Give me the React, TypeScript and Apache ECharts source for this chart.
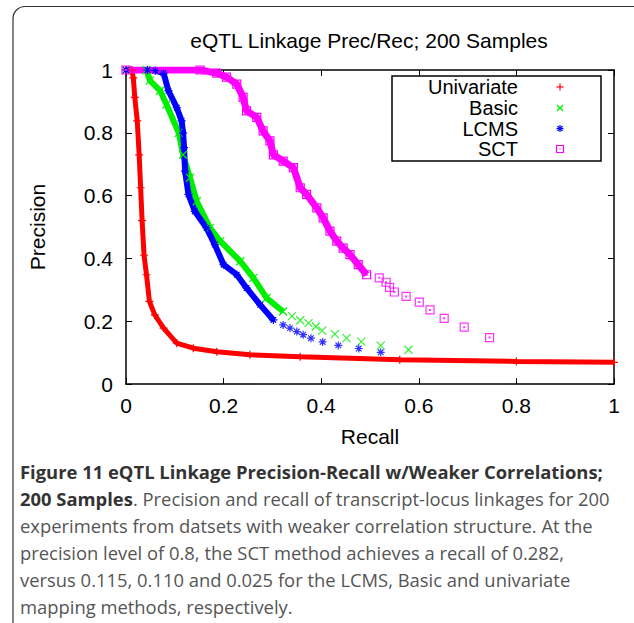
import React, { useEffect, useRef } from "react";
import * as echarts from "echarts";

const TITLE = "eQTL Linkage Prec/Rec; 200 Samples";
const X_NAME = "Recall";
const Y_NAME = "Precision";
const SERIES_NAMES = ["Univariate", "Basic", "LCMS", "SCT"];
const SERIES_COLORS = ["#ff0000", "#00ee00", "#0000ff", "#ff00ff"];

// [recall, precision]
const univariateDense = [
  [0, 1], [0.012, 1], [0.015, 0.975], [0.018, 0.913], [0.023, 0.838], [0.027, 0.73],
  [0.03, 0.625], [0.033, 0.52], [0.037, 0.41], [0.042, 0.348], [0.048, 0.263],
  [0.059, 0.22], [0.077, 0.178], [0.104, 0.13], [0.138, 0.114], [0.186, 0.103],
  [0.254, 0.093], [0.357, 0.087], [0.561, 0.077], [0.8, 0.072], [1, 0.069],
];
const basicDense = [
  [0, 1], [0.042, 1], [0.049, 0.966], [0.07, 0.934], [0.083, 0.89], [0.108, 0.8],
  [0.117, 0.73], [0.131, 0.657], [0.145, 0.582], [0.172, 0.497], [0.193, 0.455],
  [0.234, 0.391], [0.261, 0.338], [0.288, 0.274], [0.322, 0.231],
];
const basicSparse = [
  [0.34, 0.216], [0.357, 0.203], [0.374, 0.194], [0.389, 0.183], [0.402, 0.17],
  [0.428, 0.159], [0.452, 0.146], [0.482, 0.135], [0.522, 0.122], [0.579, 0.109],
];
const lcmsDense = [
  [0, 1], [0.044, 1], [0.06, 0.998], [0.077, 0.99], [0.087, 0.934], [0.104, 0.88],
  [0.114, 0.838], [0.117, 0.8], [0.119, 0.753], [0.121, 0.678], [0.128, 0.604],
  [0.141, 0.55], [0.165, 0.497], [0.182, 0.444], [0.2, 0.38], [0.227, 0.348],
  [0.247, 0.306], [0.275, 0.252], [0.302, 0.204],
];
const lcmsSparse = [
  [0.322, 0.188], [0.336, 0.178], [0.35, 0.167], [0.363, 0.157], [0.379, 0.146],
  [0.403, 0.134], [0.435, 0.123], [0.477, 0.113], [0.522, 0.101],
];
const sctDense = [
  [0, 1], [0.152, 1], [0.186, 0.99], [0.206, 0.977], [0.227, 0.955], [0.24, 0.913],
  [0.247, 0.87], [0.268, 0.849], [0.281, 0.806], [0.295, 0.774], [0.302, 0.73],
  [0.322, 0.71], [0.343, 0.689], [0.357, 0.625], [0.37, 0.604], [0.391, 0.561],
  [0.404, 0.529], [0.418, 0.487], [0.432, 0.455], [0.445, 0.433], [0.459, 0.412],
  [0.476, 0.38], [0.493, 0.348],
];
const sctSparse = [
  [0.519, 0.338], [0.533, 0.324], [0.54, 0.308], [0.55, 0.293], [0.574, 0.279],
  [0.601, 0.261], [0.623, 0.236], [0.652, 0.209], [0.693, 0.181], [0.745, 0.148],
];

const CAPTION_BOLD_1 = "Figure 11 eQTL Linkage Precision-Recall w/Weaker Correlations;";
const CAPTION_BOLD_2 = "200 Samples";
const CAPTION_LINES = [
  ". Precision and recall of transcript-locus linkages for 200",
  "experiments from datsets with weaker correlation structure. At the",
  "precision level of 0.8, the SCT method achieves a recall of 0.282,",
  "versus 0.115, 0.110 and 0.025 for the LCMS, Basic and univariate",
  "mapping methods, respectively.",
];

const SYM_PLUS = "path://M5,0L5,10M0,5L10,5";
const SYM_CROSS = "path://M0,0L10,10M10,0L0,10";
const SYM_STAR = "path://M5,0L5,10M0,5L10,5M1.5,1.5L8.5,8.5M8.5,1.5L1.5,8.5";
const SYM_SQUARE = "path://M0,0L10,0L10,10L0,10ZM4.5,4.5L5.5,4.5L5.5,5.5L4.5,5.5Z";

const FONT = "Liberation Sans";
const FS = 21;
const CAP_FONT = "Open Sans";
const CAP_FS = 18.4;

export default function App() {
  const ref = useRef<HTMLDivElement>(null);
  useEffect(() => {
    document.body.style.margin = "0";
    const chart = echarts.init(ref.current!, null, { renderer: "svg" });
    const mk = (sym: string, color: string) => ({
      symbol: sym,
      itemStyle: { color: "rgba(0,0,0,0)", borderColor: color, borderWidth: 1.2 },
    });
    const dense = (name: string, data: number[][], sym: string, color: string, w: number) => ({
      name,
      type: "line",
      data,
      ...mk(sym, color),
      symbolSize: 8,
      showSymbol: true,
      lineStyle: { color, width: w },
      z: 2,
    });
    const sparse = (name: string, data: number[][], sym: string, color: string) => ({
      name,
      type: "scatter",
      data,
      ...mk(sym, color),
      symbolSize: 8,
      z: 3,
    });
    const axisCommon = {
      type: "value",
      min: 0,
      max: 1,
      interval: 0.2,
      splitLine: { show: false },
      axisLine: { show: true, onZero: false, lineStyle: { color: "#000", width: 1.5 } },
      axisTick: { show: true, inside: true, length: 6, lineStyle: { color: "#000", width: 1 } },
    };
    const captionStyle = { fontFamily: CAP_FONT, fontSize: CAP_FS, fill: "#555" };
    const graphic: any[] = [
      {
        type: "rect",
        shape: { x: 13, y: 6.5, width: 640, height: 700, r: 12 },
        style: { fill: "none", stroke: "#333", lineWidth: 1.2 },
        silent: true,
      },
      {
        type: "text",
        x: 369,
        y: 40,
        style: { text: TITLE, fontFamily: FONT, fontSize: FS, fill: "#000", align: "center", verticalAlign: "middle" },
      },
      {
        type: "rect",
        shape: { x: 392, y: 76, width: 209, height: 85 },
        style: { fill: "#fff", stroke: "#000", lineWidth: 1.5 },
        z: 10,
      },
    ];
    const legendYs = [87, 108, 128.5, 149];
    SERIES_NAMES.forEach((n, i) => {
      graphic.push({
        type: "text",
        x: 518,
        y: legendYs[i],
        z: 11,
        style: {
          text: n,
          fontFamily: FONT,
          fontSize: 20,
          lineHeight: 19,
          fill: "#000",
          align: "right",
          verticalAlign: "middle",
        },
      });
    });
    const lx = 560;
    const seg = (x1: number, y1: number, x2: number, y2: number, c: string) => ({
      type: "line",
      z: 11,
      shape: { x1, y1, x2, y2 },
      style: { stroke: c, lineWidth: 1.2 },
    });
    graphic.push(seg(lx - 3.5, legendYs[0], lx + 3.5, legendYs[0], SERIES_COLORS[0]));
    graphic.push(seg(lx, legendYs[0] - 3.5, lx, legendYs[0] + 3.5, SERIES_COLORS[0]));
    graphic.push(seg(lx - 3, legendYs[1] - 3, lx + 3, legendYs[1] + 3, SERIES_COLORS[1]));
    graphic.push(seg(lx + 3, legendYs[1] - 3, lx - 3, legendYs[1] + 3, SERIES_COLORS[1]));
    graphic.push(seg(lx - 3.5, legendYs[2], lx + 3.5, legendYs[2], SERIES_COLORS[2]));
    graphic.push(seg(lx, legendYs[2] - 3.5, lx, legendYs[2] + 3.5, SERIES_COLORS[2]));
    graphic.push(seg(lx - 2.5, legendYs[2] - 2.5, lx + 2.5, legendYs[2] + 2.5, SERIES_COLORS[2]));
    graphic.push(seg(lx + 2.5, legendYs[2] - 2.5, lx - 2.5, legendYs[2] + 2.5, SERIES_COLORS[2]));
    graphic.push({
      type: "rect",
      z: 11,
      shape: { x: lx - 3.5, y: legendYs[3] - 3.5, width: 7, height: 7 },
      style: { fill: "none", stroke: SERIES_COLORS[3], lineWidth: 1.2 },
    });
    graphic.push({
      type: "rect",
      z: 11,
      shape: { x: lx - 0.5, y: legendYs[3] - 0.5, width: 1, height: 1 },
      style: { fill: SERIES_COLORS[3] },
    });
    // caption
    const capX = 20;
    const capY0 = 471;
    const capStep = 27;
    graphic.push({
      type: "text",
      x: capX,
      y: capY0,
      style: { text: CAPTION_BOLD_1, fontFamily: CAP_FONT, fontSize: CAP_FS, fontWeight: "bold", fill: "#333", verticalAlign: "middle" },
    });
    graphic.push({
      type: "text",
      x: capX,
      y: capY0 + capStep,
      style: {
        text: `{b|${CAPTION_BOLD_2}}{n|${CAPTION_LINES[0]}}`,
        verticalAlign: "middle",
        rich: {
          b: { fontFamily: CAP_FONT, fontSize: CAP_FS, fontWeight: "bold", fill: "#333", color: "#333" },
          n: { fontFamily: CAP_FONT, fontSize: CAP_FS, fill: "#555", color: "#555" },
        },
      },
    });
    for (let i = 1; i < CAPTION_LINES.length; i++) {
      graphic.push({
        type: "text",
        x: capX,
        y: capY0 + capStep * (i + 1),
        style: { text: CAPTION_LINES[i], ...captionStyle, verticalAlign: "middle" },
      });
    }

    chart.setOption({
      animation: false,
      backgroundColor: "#fff",
      grid: { left: 126, top: 70, right: 20, bottom: 239, containLabel: false },
      xAxis: [
        {
          ...axisCommon,
          position: "bottom",
          name: X_NAME,
          nameLocation: "middle",
          nameGap: 41.5,
          nameTextStyle: { fontFamily: FONT, fontSize: FS, color: "#000", verticalAlign: "top" },
          axisLabel: { fontFamily: FONT, fontSize: FS, color: "#000", margin: 11 },
        },
        { ...axisCommon, position: "top", axisLabel: { show: false } },
      ],
      yAxis: [
        {
          ...axisCommon,
          position: "left",
          name: Y_NAME,
          nameLocation: "middle",
          nameGap: 78.5,
          nameRotate: 90,
          nameTextStyle: { fontFamily: FONT, fontSize: FS, color: "#000" },
          axisLabel: { fontFamily: FONT, fontSize: FS, color: "#000", margin: 13 },
        },
        { ...axisCommon, position: "right", axisLabel: { show: false } },
      ],
      series: [
        dense(SERIES_NAMES[0], univariateDense, SYM_PLUS, SERIES_COLORS[0], 5),
        dense(SERIES_NAMES[1], basicDense, SYM_CROSS, SERIES_COLORS[1], 6),
        sparse(SERIES_NAMES[1], basicSparse, SYM_CROSS, SERIES_COLORS[1]),
        dense(SERIES_NAMES[2], lcmsDense, SYM_STAR, SERIES_COLORS[2], 6),
        sparse(SERIES_NAMES[2], lcmsSparse, SYM_STAR, SERIES_COLORS[2]),
        dense(SERIES_NAMES[3], sctDense, SYM_SQUARE, SERIES_COLORS[3], 7),
        sparse(SERIES_NAMES[3], sctSparse, SYM_SQUARE, SERIES_COLORS[3]),
      ],
      graphic,
    });
    return () => chart.dispose();
  }, []);
  return <div ref={ref} style={{ width: 634, height: 623 }} />;
}
